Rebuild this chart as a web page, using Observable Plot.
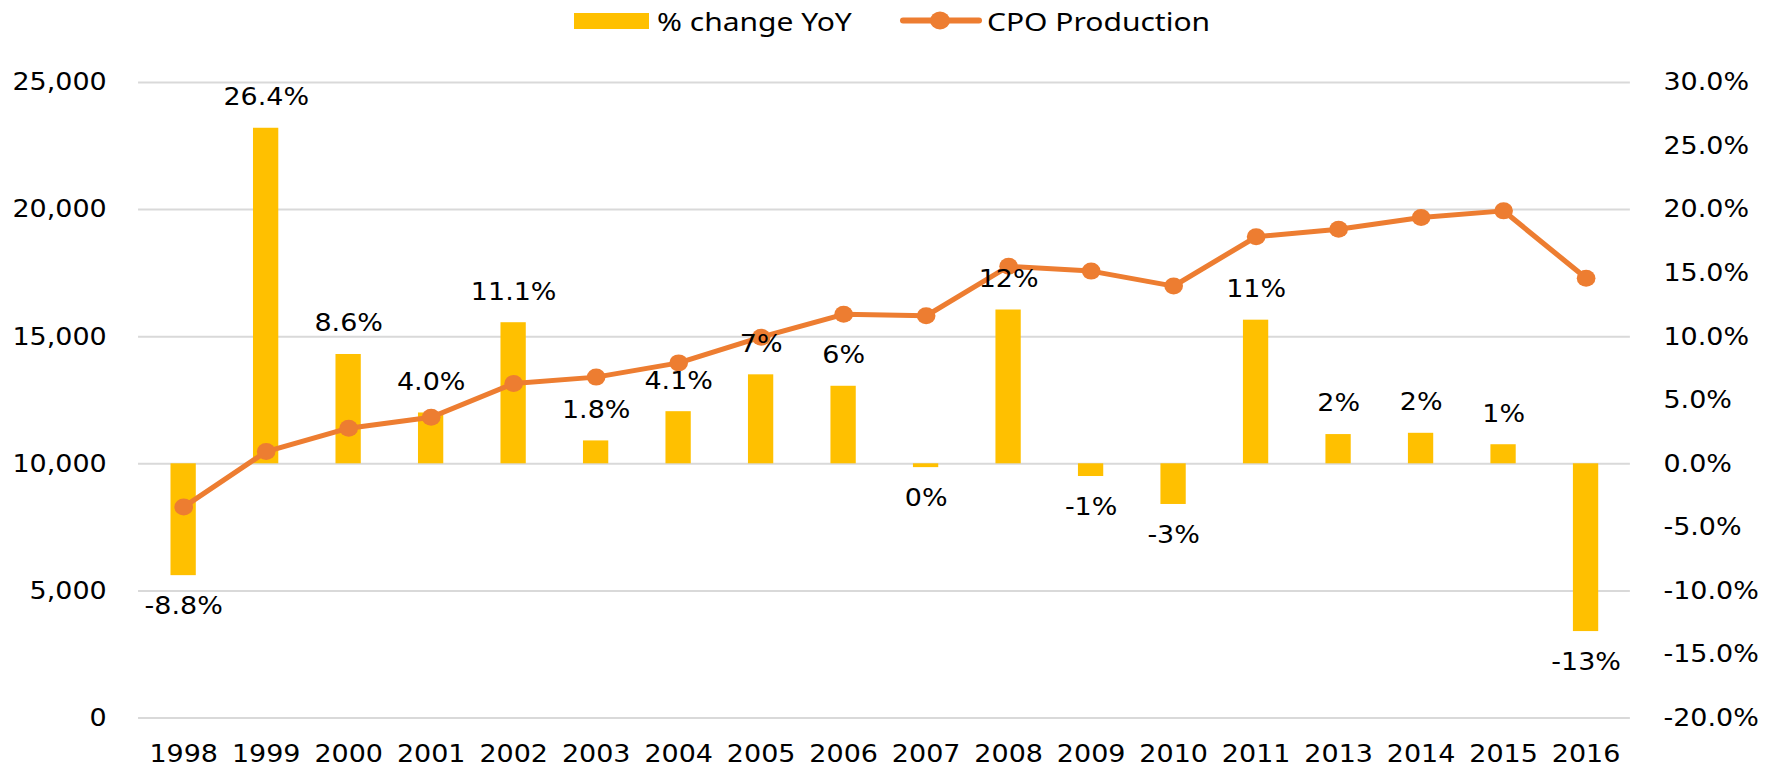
<!DOCTYPE html>
<html>
<head>
<meta charset="utf-8">
<script src="https://cdn.jsdelivr.net/npm/d3@7"></script>
<script src="https://cdn.jsdelivr.net/npm/@observablehq/plot@0.6"></script>
<style>
  html, body { margin: 0; padding: 0; background: #fff; }
  #legend { position: relative; height: 45px; width: 1783px; font-family: "Noto Sans", sans-serif; font-size: 25px; color: #000; }
  #legend .t { position: absolute; top: 20.5px; transform-origin: 0 50%; transform: translateY(-50%) scaleX(1.2); white-space: nowrap; line-height: 1; }
</style>
</head>
<body>
<div id="legend">
  <div style="position:absolute;left:574px;top:12.5px;width:75px;height:16px;background:#FFC000"></div>
  <div class="t" style="left:657px">% change YoY</div>
  <svg style="position:absolute;left:898px;top:8px" width="86" height="26">
    <line x1="5" y1="12.5" x2="81" y2="12.5" stroke="#ED7D31" stroke-width="6" stroke-linecap="round"></line>
    <ellipse cx="42" cy="12.5" rx="10" ry="9" fill="#ED7D31"></ellipse>
  </svg>
  <div class="t" style="left:987px">CPO Production</div>
</div>
<div id="chart"></div>
<script>
const years = ["1998","1999","2000","2001","2002","2003","2004","2005","2006","2007","2008","2009","2010","2011","2013","2014","2015","2016"];
const pctChange = [-8.8, 26.4, 8.6, 4.0, 11.1, 1.8, 4.1, 7.0, 6.1, -0.3, 12.1, -1.0, -3.2, 11.3, 2.3, 2.4, 1.5, -13.2];
const pctLabels = ["-8.8%","26.4%","8.6%","4.0%","11.1%","1.8%","4.1%","7%","6%","0%","12%","-1%","-3%","11%","2%","2%","1%","-13%"];
const production = [8300, 10480, 11400, 11830, 13160, 13410, 13970, 14980, 15880, 15820, 17770, 17580, 16990, 18930, 19230, 19690, 19950, 17300];
const leftTicks = [0, 5000, 10000, 15000, 20000, 25000];
const pctTicks = [-20, -15, -10, -5, 0, 5, 10, 15, 20, 25, 30];

// map the right (percent) axis onto the left scale: -20% -> 0, 30% -> 25000
const pctToY = p => (p + 20) * 500;
const yToPct = v => v / 500 - 20;

const data = years.map((year, i) => ({year, pct: pctChange[i], label: pctLabels[i], prod: production[i]}));

const W = 1621, H = 722, FULLW = 1783;
const FS = 24.5;
const chart = Plot.plot({
  width: W, height: H,
  marginTop: 37, marginBottom: 49.5, marginLeft: 125.5, marginRight: 139.2,
  style: {fontFamily: "DejaVu Sans", fontSize: FS + "px", color: "#000", background: "white"},
  x: {type: "band", domain: years, paddingInner: 0.7, paddingOuter: 0.35},
  y: {domain: [0, 25000]},
  marks: [
    Plot.gridY(leftTicks, {stroke: "#d9d9d9", strokeOpacity: 1, strokeWidth: 2}),
    Plot.barY(data, {x: "year", y1: pctToY(0), y2: d => pctToY(d.pct), fill: "#FFC000"}),
    Plot.line(data, {x: "year", y: "prod", stroke: "#ED7D31", strokeWidth: 5, strokeLinejoin: "round"}),
    Plot.dot(data, {x: "year", y: "prod", r: 8.5, fill: "#ED7D31", stroke: null}),
    Plot.text(data.filter(d => d.pct >= 0), {x: "year", y: d => pctToY(d.pct), text: "label", dy: -31, fontSize: FS, fill: "#000"}),
    Plot.text(data.filter(d => d.pct < 0), {x: "year", y: d => pctToY(d.pct), text: "label", dy: 31, fontSize: FS, fill: "#000"}),
    Plot.axisY({anchor: "left", ticks: leftTicks, tickFormat: d3.format(","), tickSize: 0, tickPadding: 29, label: null, fontSize: FS}),
    Plot.axisY({anchor: "right", ticks: pctTicks.map(pctToY), tickFormat: v => yToPct(v).toFixed(1) + "%", tickSize: 0, tickPadding: 30, label: null, fontSize: FS}),
    Plot.axisX({tickSize: 0, tickPadding: 27, label: null, fontSize: FS})
  ]
});
chart.setAttribute("width", FULLW);
chart.setAttribute("height", H);
chart.setAttribute("viewBox", `0 0 ${W} ${H}`);
chart.setAttribute("preserveAspectRatio", "none");
chart.style.width = FULLW + "px";
chart.style.height = H + "px";
chart.style.maxWidth = "none";
document.getElementById("chart").appendChild(chart);
</script>
</body>
</html>
